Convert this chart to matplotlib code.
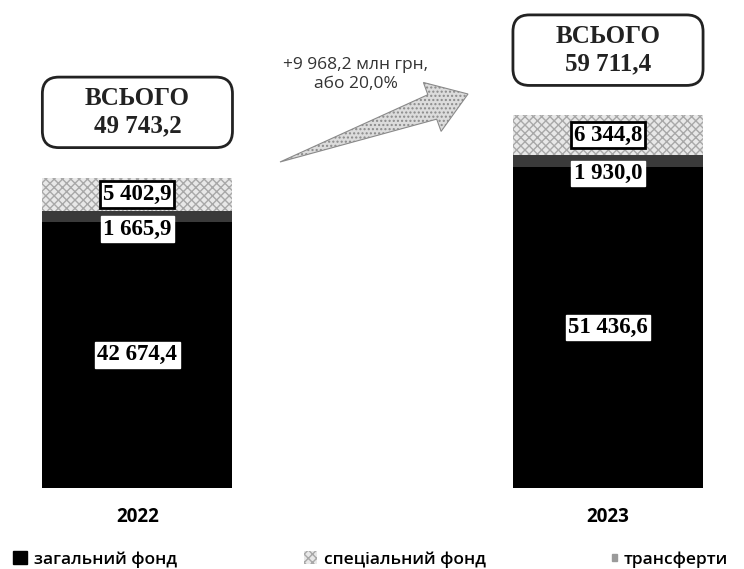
import matplotlib
matplotlib.use("Agg")
import matplotlib.pyplot as plt
from matplotlib.patches import FancyBboxPatch, Polygon, Patch
import numpy as np

# data (млн грн)
years = ["2022", "2023"]
general_fund = [42674.4, 51436.6]
transfers = [1665.9, 1930.0]
special_fund = [5402.9, 6344.8]
legend_labels = ["загальний фонд", "спеціальний фонд", "трансферти"]
total_label = "ВСЬОГО"


def fmt(v):
    # 49743.2 -> "49 743,2"
    return f"{v:,.1f}".replace(",", " ").replace(".", ",")


SERIF = ["Liberation Serif", "DejaVu Serif"]
SANS = ["Open Sans", "DejaVu Sans"]

general = np.array(general_fund)
trans = np.array(transfers)
special = np.array(special_fund)
totals = general + trans + special

W, H = 744, 569
fig = plt.figure(figsize=(W / 100, H / 100), dpi=100)
ax = fig.add_axes([0, 0.1424, 1, 0.8576])

x = np.arange(len(years))
width = 0.404
c_general = "black"
c_trans = "#3a3a3a"
c_special = "#e8e8e8"
c_hatch = "#a8a8a8"

ax.bar(x, general, width, color=c_general, linewidth=0)
ax.bar(x, trans, width, bottom=general, color=c_trans, linewidth=0)
ax.bar(x, special, width, bottom=general + trans, color=c_special,
       edgecolor=c_hatch, hatch="xxxx", linewidth=0)

ax.set_xlim(-0.292, 1.289)
ax.set_ylim(0, 78200)

# value labels
lab_kw = dict(ha="center", va="center", fontsize=16.5, fontweight="bold",
              family=SERIF)
for i in range(len(years)):
    ax.text(x[i], general[i] / 2, fmt(general[i]),
            bbox=dict(boxstyle="square,pad=0.1", fc="white", ec="white"),
            **lab_kw)
    ax.annotate(fmt(trans[i]), (x[i], general[i] + trans[i] / 2),
                xytext=(0, -9), textcoords="offset points",
                bbox=dict(boxstyle="square,pad=0.1", fc="white", ec="white"),
                **lab_kw)
    ax.text(x[i], general[i] + trans[i] + special[i] / 2, fmt(special[i]),
            bbox=dict(boxstyle="square,pad=0.12", fc="white", ec="black",
                      lw=2.0),
            **lab_kw)

# total boxes above bars
gap = 4800
box_h = 11300
# pixel aspect between x and y data units, for round corners
p0 = ax.transData.transform((0, 0))
p1 = ax.transData.transform((1, 1000))
aspect = ((p1[0] - p0[0]) / (p1[1] - p0[1])) * 1000
for i in range(len(years)):
    y0 = totals[i] + gap
    box = FancyBboxPatch((x[i] - width / 2, y0), width, box_h,
                         boxstyle="round,pad=0,rounding_size=0.035",
                         mutation_aspect=aspect,
                         fc="white", ec="#222222", lw=2.0, clip_on=False)
    ax.add_patch(box)
    ax.text(x[i], y0 + box_h / 2, f"{total_label}\n{fmt(totals[i])}",
            ha="center", va="center", fontsize=18, fontweight="bold",
            family=SERIF, linespacing=1.25, color="#222222")

# growth arrow (pointed tail, built in pixel space) and note
tail = np.array([280.0, 162.0])
tip = np.array([468.0, 94.0])
u = (tip - tail) / np.hypot(*(tip - tail))
n = np.array([-u[1], u[0]])
base = tip - 38 * u
pts = [tail, base + 13 * n, base + 26 * n, tip, base - 26 * n, base - 13 * n]
pts = [(p[0] / W, 1 - p[1] / H) for p in pts]
arrow = Polygon(pts, closed=True, transform=fig.transFigure,
                fc="#dcdcdc", ec="#8a8a8a", hatch="....", lw=0.8)
fig.patches.append(arrow)

diff = totals[1] - totals[0]
pct = diff / totals[0] * 100
ax.text(0.478, 0.848, f"+{fmt(diff)} млн грн,\nабо {pct:.1f}%".replace(".", ","),
        transform=ax.transAxes, ha="center", va="center", fontsize=12.5,
        family=SANS, color="#333333", linespacing=1.25)

# axes styling
for s in ax.spines.values():
    s.set_visible(False)
ax.set_yticks([])
ax.set_xticks(x)
ax.set_xticklabels(years, fontsize=13.5, fontweight="bold", family=SANS)
ax.tick_params(axis="x", length=0, pad=14)

# legend, one entry per block to match spacing
handles = [
    Patch(fc=c_general, ec=c_general),
    Patch(fc=c_special, ec=c_hatch, hatch="xxxx", lw=0),
    Patch(fc="#9a9a9a", ec="#9a9a9a"),
]
legend_x = [0.018, 0.408, 0.822]
handle_size = [0.8, 0.8, 0.3]
for h, lab, lx, hs in zip(handles, legend_labels, legend_x, handle_size):
    fig.legend([h], [lab], loc="center left", bbox_to_anchor=(lx, 0.017),
               frameon=False, handlelength=hs, handleheight=hs,
               handletextpad=0.4, borderaxespad=0, borderpad=0,
               prop={"family": SANS, "size": 12.5, "weight": "semibold"})

fig.savefig("out.png", dpi=100)
